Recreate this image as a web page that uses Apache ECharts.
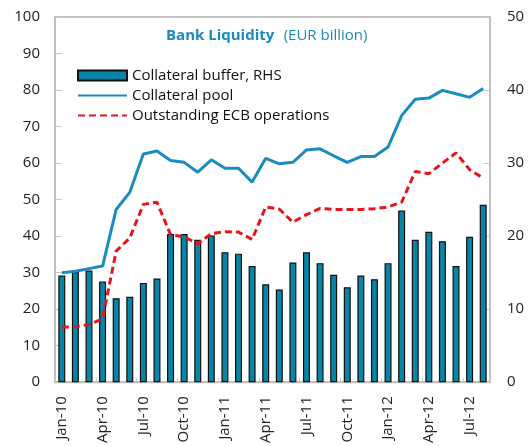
<!DOCTYPE html>
<html><head><meta charset="utf-8">
<script src="https://cdn.jsdelivr.net/npm/echarts@6/dist/echarts.min.js"></script>
<style>html,body{margin:0;padding:0;background:#fff}#c{width:528px;height:446px}</style>
</head><body><div id="c"></div>
<script>
const categories = ['Jan-10','Feb-10','Mar-10','Apr-10','May-10','Jun-10','Jul-10','Aug-10','Sep-10','Oct-10','Nov-10','Dec-10',
 'Jan-11','Feb-11','Mar-11','Apr-11','May-11','Jun-11','Jul-11','Aug-11','Sep-11','Oct-11','Nov-11','Dec-11',
 'Jan-12','Feb-12','Mar-12','Apr-12','May-12','Jun-12','Jul-12','Aug-12'];
const collateralBuffer = [14.6,15.1,15.3,13.8,11.5,11.7,13.6,14.2,20.3,20.3,19.5,20.1,
 17.8,17.6,15.9,13.4,12.7,16.4,17.8,16.3,14.7,13.0,14.6,14.1,
 16.3,23.5,19.5,20.6,19.3,15.9,19.9,24.3];
const collateralPool = [30.0,30.4,31.1,31.8,47.3,52.0,62.5,63.3,60.7,60.2,57.5,60.9,
 58.6,58.6,54.8,61.3,59.8,60.2,63.6,63.9,62.0,60.2,61.8,61.8,
 64.4,73.0,77.5,77.8,79.9,79.0,78.0,80.4];
const ecbOperations = [15.1,15.2,15.8,17.4,35.9,39.5,48.7,49.3,40.4,39.8,37.9,40.7,
 41.2,41.1,39.1,48.0,47.4,43.8,45.9,47.6,47.3,47.3,47.3,47.5,
 48.0,49.3,57.7,57.1,60.0,62.8,58.2,55.9];
const seriesNames = ['Collateral buffer, RHS','Collateral pool','Outstanding ECB operations'];

const FONT = '"Open Sans", "Noto Sans", sans-serif';
const chart = echarts.init(document.getElementById('c'), null, {renderer:'canvas'});
chart.setOption({
  animation:false,
  textStyle:{fontFamily:FONT},
  title:{
    text:'{b|Bank Liquidity}  {n|(EUR billion)}',
    left:166, top:27, padding:0,
    textStyle:{rich:{
      b:{fontFamily:FONT,fontWeight:'bold',fontSize:15,color:'#1A8BBB'},
      n:{fontFamily:FONT,fontWeight:'normal',fontSize:15,color:'#1A8BBB'}
    }}
  },
  legend:{
    orient:'vertical', left:77, top:68, padding:0, itemWidth:49, itemHeight:10, itemGap:5,
    data:[
      {name:seriesNames[0], icon:'rect'},
      {name:seriesNames[1], itemStyle:{opacity:0}},
      {name:seriesNames[2], itemStyle:{opacity:0}}
    ],
    textStyle:{fontFamily:FONT,fontSize:15,color:'#111',lineHeight:14,height:14}
  },
  grid:{left:55,right:38,top:17,bottom:63,show:true,borderColor:'#C4C4C4',borderWidth:2},
  xAxis:{
    type:'category', data:categories, boundaryGap:true,
    axisLine:{show:true,lineStyle:{color:'#C0C0C0',width:2}},
    axisTick:{show:true,inside:true,interval:2,length:4,lineStyle:{color:'#C8C8C8',width:1}},
    axisLabel:{interval:2,rotate:90,margin:14,fontSize:15,color:'#222',fontFamily:FONT}
  },
  yAxis:[
    {type:'value',min:0,max:100,interval:10,position:'left',
     axisLine:{show:true,lineStyle:{color:'#C0C0C0',width:2}},
     axisTick:{show:true,inside:true,length:7,lineStyle:{color:'#C8C8C8'}},
     splitLine:{show:false},
     axisLabel:{margin:15,fontSize:15,color:'#222',fontFamily:FONT}},
    {type:'value',min:0,max:50,interval:10,position:'right',
     axisLine:{show:true,lineStyle:{color:'#C0C0C0',width:2}},
     axisTick:{show:true,inside:true,length:6,lineStyle:{color:'#C8C8C8'}},
     splitLine:{show:false},
     axisLabel:{margin:17,fontSize:15,color:'#222',fontFamily:FONT}}
  ],
  series:[
    {name:seriesNames[0],type:'bar',yAxisIndex:1,data:collateralBuffer,barWidth:7,
     itemStyle:{color:'#0885A6',borderColor:'#111',borderWidth:1.2}},
    {name:seriesNames[1],type:'line',yAxisIndex:0,data:collateralPool,symbol:'none',
     lineStyle:{color:'#1A8CC0',width:3},itemStyle:{color:'#1A8CC0'},z:3},
    {name:seriesNames[2],type:'line',yAxisIndex:0,data:ecbOperations,symbol:'none',
     lineStyle:{color:'#E8141B',width:3,type:[7,4]},itemStyle:{color:'#E8141B'},z:4}
  ]
});
</script></body></html>
